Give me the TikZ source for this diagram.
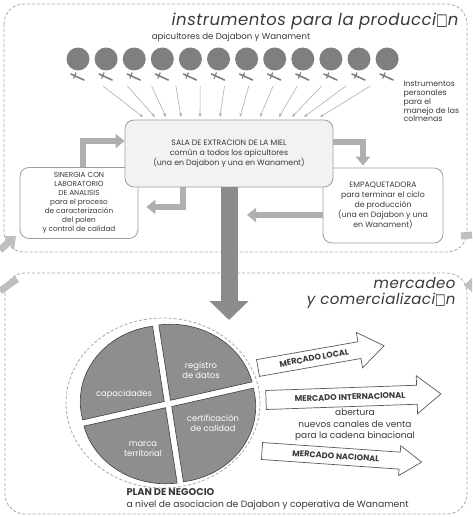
\documentclass[tikz,border=0pt]{standalone}
\usepackage{fontspec}
\setmainfont{Poppins}
\newfontfamily\titlefont[LetterSpace=3]{Poppins}
\newfontfamily\dv{DejaVu Sans}
\usetikzlibrary{arrows.meta,calc}
\definecolor{txt}{HTML}{3A3A3A}
\definecolor{dot}{HTML}{7F7F7F}
\definecolor{flowc}{HTML}{AFAFAF}
\definecolor{bigc}{HTML}{8C8C8C}
\definecolor{dashc}{HTML}{A8A8A8}
\definecolor{boxc}{HTML}{9E9E9E}
\definecolor{piec}{HTML}{8E8E8E}
\definecolor{salac}{HTML}{F2F2F2}
\newcommand{\missingbox}{{\dv\upshape\scalebox{0.75}[1]{□}}}
\tikzset{
  small/.style={font=\fontsize{7.8}{9.8}\selectfont, text=txt},
  bigtitle/.style={font=\titlefont\fontsize{16.5}{18}\selectfont\itshape, text=txt},
  roundbox/.style={draw=boxc, line width=0.8pt, rounded corners=9pt, align=center, small, inner sep=2pt},
  dashbox/.style={draw=dashc, line width=0.8pt, dash pattern=on 3pt off 2pt, rounded corners=20pt},
  thin arrow/.style={draw=flowc, line width=0.6pt, -{Stealth[length=4pt,width=3pt]}},
  flow/.style={draw=flowc, line width=6pt, -{Triangle[width=14pt,length=9pt]}},
  bigflow/.style={draw=bigc, line width=17pt, -{Triangle[width=38pt,length=19pt]}},
  edgeflow/.style={draw=flowc!80, line width=7pt},
  piece/.style={fill=piec, draw=black!75, line width=0.6pt},
  pielabel/.style={font=\fontsize{8.4}{10}\selectfont, text=white, align=center},
  blockarrow/.style={fill=white, draw=black!65, line width=0.7pt},
  blocklabel/.style={font=\fontsize{8.2}{9}\selectfont\bfseries, text=txt},
  tool/.style={draw=dot, line width=1.6pt, line cap=round}
}
\begin{document}
\begin{tikzpicture}[x=1pt,y=-1pt]
\useasboundingbox (0,0) rectangle (472,517);
\fill[white] (0,0) rectangle (472,517);

% dashed frames
\draw[dashbox] (4,4) rectangle (467,252);
\draw[dashbox] (5,273) rectangle (467,514);

% edge cycle arrows
\coordinate (lt1) at (0,250); \coordinate (lt2) at (9,242);
\draw[edgeflow] (lt1) -- (lt2);
\fill[flowc!80] (16,236) -- (4,236) -- (14,250) -- cycle;
\coordinate (lb1) at (17,279); \coordinate (lb2) at (0,291);
\draw[edgeflow] (lb1) -- (lb2);
\coordinate (rt1) at (461,236); \coordinate (rt2) at (472,235);
\draw[edgeflow] (rt1) -- (rt2);
\fill[flowc!80] (464,285) -- (472,278) -- (472,292) -- cycle;

% titles
\node[bigtitle, anchor=east] (t1) at (462,21) {instrumentos para la producci\missingbox n};
\node[small, font=\fontsize{8.6}{10}\selectfont] (api) at (231,37) {apicultores de Dajabon y Wanament};

% beekeepers
\foreach \i in {0,...,11}{
  \node[circle, fill=dot, minimum size=23pt, inner sep=0pt] (c\i) at ({78+28.1*\i},59) {};
  \draw[tool] ($(c\i)+(-7,15)$) -- ($(c\i)+(6,21)$);
  \draw[draw=dot, line width=1.2pt] ($(c\i)+(-2,13.5)$) -- ($(c\i)+(-4.5,19.5)$);
}

\node[small, anchor=north west, align=left, font=\fontsize{7.8}{8.7}\selectfont] (instr) at (400,78)
  {Instrumentos\\personales\\para el\\manejo de las\\colmenas};

% side boxes
\node[roundbox, font=\fontsize{7.3}{9.1}\selectfont, minimum width=118pt, minimum height=71pt] (lab) at (79,203)
  {SINERGIA CON\\LABORATORIO\\DE ANALISIS\\para el proceso\\de caracterizaci\'on\\del polen\\y control de calidad};
\node[roundbox, minimum width=120pt, minimum height=75pt] (emp) at (383,205.5)
  {EMPAQUETADORA\\para terminar el ciclo\\de producci\'on\\(una en Dajabon y una\\en Wanament)};

% central box
\node[roundbox, fill=salac, minimum width=208pt, minimum height=67pt] (sala) at (229,153.5)
  {SALA DE EXTRACION DE LA MIEL\\com\'un a todos los apicultores\\(una en Dajabon y una en Wanament)};

% thin arrows from beekeepers
\foreach \i/\ex in {0/143,1/155,2/166,3/181,4/200,5/220,6/240,7/260,8/279,9/292,10/304,11/320}{
  \coordinate (s\i) at ({78+28.1*\i+25-3.8*\i},86);
  \coordinate (e\i) at (\ex,117);
  \draw[thin arrow] (s\i) -- (e\i);
}

% grey flow arrows
\draw[flow] ([xshift=4pt]lab.north) |- ([yshift=12.5pt]sala.west);
\draw[flow, shorten >=2pt] ([yshift=12pt]sala.east) -| ([xshift=-20pt]emp.north);
\draw[flow, shorten >=8pt] ([xshift=-46pt]sala.south) |- ([yshift=-4pt]lab.east);
\coordinate (p4) at (247,215);
\draw[flow] (emp.west |- p4) -- (p4);

% big arrow
\coordinate (bigtip) at (229,320);
\draw[bigflow] (sala.south) -- (bigtip);

% marketing titles
\node[bigtitle, font=\titlefont\fontsize{15}{16}\selectfont\itshape, anchor=east, inner ysep=1pt] (m1) at (459,283) {mercadeo};
\node[bigtitle, font=\titlefont\fontsize{15}{16}\selectfont\itshape, anchor=east, inner ysep=1pt] (m2) at (459,301) {y comercializaci\missingbox n};

% pie
\draw[dashbox, rounded corners=0pt] (163,403) ellipse [x radius=97, y radius=85];
\coordinate (C) at (168,404);
\foreach \a/\b in {14/98,98/194,194/278,278/374}{
  \pgfmathsetmacro{\mid}{(\a+\b)/2}
  \filldraw[piece] ($(C)+(\mid:4.5pt)$) -- ++(\a:84pt and 76pt)
     arc[start angle=\a, end angle=\b, x radius=84pt, y radius=76pt] -- cycle;
}
\node[pielabel] (reg) at (201,370) {registro\\de datos};
\node[pielabel] (cap) at (124,394) {capacidades};
\node[pielabel] (cert) at (213,423) {certificaci\'on\\de calidad};
\node[pielabel] (marca) at (143,449) {marca\\territorial};

% block arrows
\begin{scope}[shift={(258,368)}, rotate=10]
  \filldraw[blockarrow] (0,-8.5) -- (103,-8.5) -- (103,-18) -- (128,0) -- (103,18) -- (103,8.5) -- (0,8.5) -- cycle;
  \node[blocklabel, rotate=10] (ml) at (57,0) {MERCADO LOCAL};
\end{scope}
\begin{scope}[shift={(266,400)}, rotate=2]
  \filldraw[blockarrow] (0,-9.5) -- (151,-9.5) -- (151,-19) -- (175,0) -- (151,19) -- (151,9.5) -- (0,9.5) -- cycle;
  \node[blocklabel, rotate=2] (mi) at (84,0) {MERCADO INTERNACIONAL};
\end{scope}
\begin{scope}[shift={(262,451)}, rotate=-4]
  \filldraw[blockarrow] (0,-8.5) -- (138,-8.5) -- (138,-15) -- (160,0) -- (138,15) -- (138,8.5) -- (0,8.5) -- cycle;
  \node[blocklabel, rotate=-4] (mn) at (74,0) {MERCADO NACIONAL};
\end{scope}
\node[small, align=center, font=\fontsize{9}{11.5}\selectfont] (ab) at (355,425)
  {abertura\\nuevos canales de venta\\para la cadena binacional};

% plan de negocio
\node[anchor=west, font=\fontsize{9.8}{11}\selectfont\bfseries, text=txt] (plan) at (123,492) {PLAN DE NEGOCIO};
\node[anchor=west, small, font=\fontsize{9.2}{11}\selectfont] (nivel) at (123,505)
  {a nivel de asociacion de Dajabon y coperativa de Wanament};
\end{tikzpicture}
\end{document}
